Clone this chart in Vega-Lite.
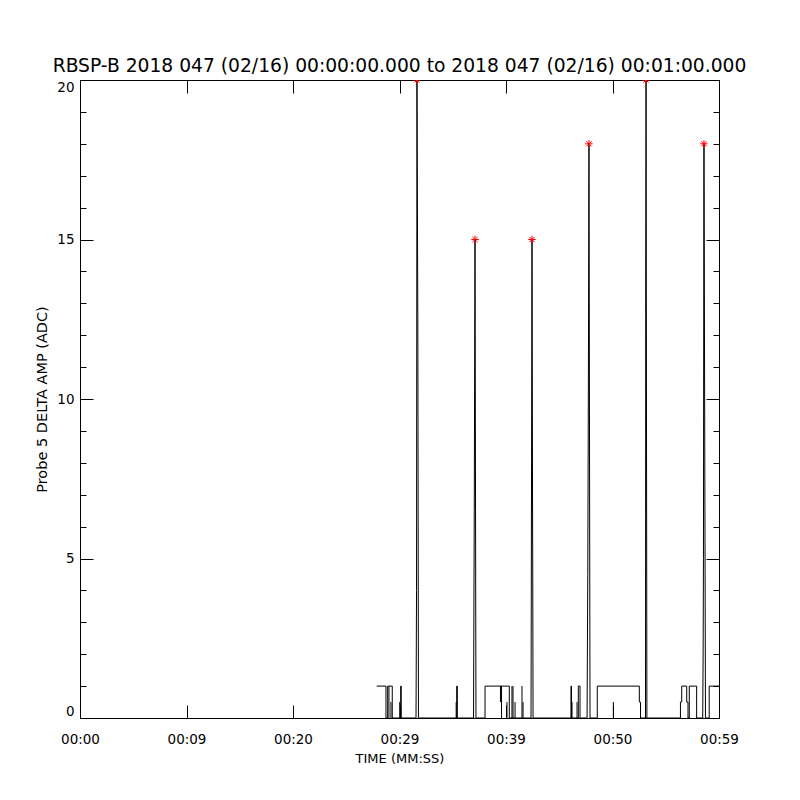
{
  "$schema": "https://vega.github.io/schema/vega-lite/v6.json",
  "width": 639,
  "height": 638,
  "autosize": "none",
  "padding": {"left": 80, "top": 80, "right": 81, "bottom": 82},
  "background": "white",
  "title": {"text": "RBSP-B 2018 047 (02/16) 00:00:00.000 to 2018 047 (02/16) 00:01:00.000", "font": "DejaVu Sans", "fontSize": 18.7, "fontWeight": "normal", "color": "black", "offset": 2, "anchor": "middle"},
  "config": {
    "view": {"stroke": "black", "strokeWidth": 1},
    "axis": {"labelFont": "DejaVu Sans", "labelFontSize": 13.5, "labelColor": "black", "tickColor": "black", "tickWidth": 1, "titleFont": "DejaVu Sans", "titleFontSize": 13, "titleFontWeight": "normal", "titleColor": "black", "grid": false, "domain": false}
  },
  "datasets": {
    "series": [
      {"i": 1, "t": 27.86, "v": 1, "s": "a"},
      {"i": 2, "t": 28.73, "v": 1, "s": "a"},
      {"i": 3, "t": 28.73, "v": 0, "s": "a"},
      {"i": 4, "t": 28.89, "v": 0, "s": "a"},
      {"i": 5, "t": 28.89, "v": 1, "s": "a"},
      {"i": 6, "t": 29.32, "v": 1, "s": "a"},
      {"i": 7, "t": 29.32, "v": 0, "s": "a"},
      {"i": 8, "t": 30.11, "v": 0, "s": "a"},
      {"i": 9, "t": 30.11, "v": 1, "s": "a"},
      {"i": 10, "t": 30.16, "v": 1, "s": "a"},
      {"i": 11, "t": 30.16, "v": 0, "s": "a"},
      {"i": 12, "t": 31.55, "v": 0, "s": "a"},
      {"i": 13, "t": 31.6, "v": 4, "s": "a"},
      {"i": 14, "t": 31.64, "v": 20, "s": "a"},
      {"i": 15, "t": 31.72, "v": 12.5, "s": "a"},
      {"i": 16, "t": 31.78, "v": 0, "s": "a"},
      {"i": 17, "t": 35.37, "v": 0, "s": "a"},
      {"i": 18, "t": 35.37, "v": 1, "s": "a"},
      {"i": 19, "t": 35.43, "v": 1, "s": "a"},
      {"i": 20, "t": 35.43, "v": 0, "s": "a"},
      {"i": 21, "t": 36.95, "v": 0, "s": "a"},
      {"i": 22, "t": 37.02, "v": 6.5, "s": "a"},
      {"i": 23, "t": 37.09, "v": 15, "s": "a"},
      {"i": 24, "t": 37.18, "v": 0, "s": "a"},
      {"i": 25, "t": 38.03, "v": 0, "s": "a"},
      {"i": 26, "t": 38.03, "v": 1, "s": "a"},
      {"i": 27, "t": 40.31, "v": 1, "s": "a"},
      {"i": 28, "t": 40.31, "v": 0, "s": "a"},
      {"i": 29, "t": 42.35, "v": 0, "s": "a"},
      {"i": 30, "t": 42.4, "v": 8, "s": "a"},
      {"i": 31, "t": 42.44, "v": 15, "s": "a"},
      {"i": 32, "t": 42.54, "v": 0, "s": "a"},
      {"i": 33, "t": 46.1, "v": 0, "s": "a"},
      {"i": 34, "t": 46.1, "v": 1, "s": "a"},
      {"i": 35, "t": 46.15, "v": 1, "s": "a"},
      {"i": 36, "t": 46.15, "v": 0, "s": "a"},
      {"i": 37, "t": 46.79, "v": 0, "s": "a"},
      {"i": 38, "t": 46.79, "v": 1, "s": "a"},
      {"i": 39, "t": 46.95, "v": 1, "s": "a"},
      {"i": 40, "t": 46.95, "v": 0, "s": "a"},
      {"i": 41, "t": 47.61, "v": 0, "s": "a"},
      {"i": 42, "t": 47.68, "v": 4.5, "s": "a"},
      {"i": 43, "t": 47.74, "v": 11, "s": "a"},
      {"i": 44, "t": 47.79, "v": 18, "s": "a"},
      {"i": 45, "t": 47.89, "v": 0, "s": "a"},
      {"i": 46, "t": 48.57, "v": 0, "s": "a"},
      {"i": 47, "t": 48.57, "v": 1, "s": "a"},
      {"i": 48, "t": 52.52, "v": 1, "s": "a"},
      {"i": 49, "t": 52.52, "v": 0.5, "s": "a"},
      {"i": 50, "t": 52.63, "v": 0.5, "s": "a"},
      {"i": 51, "t": 52.63, "v": 0, "s": "a"},
      {"i": 52, "t": 53.1, "v": 0, "s": "a"},
      {"i": 53, "t": 53.12, "v": 14, "s": "a"},
      {"i": 54, "t": 53.15, "v": 20, "s": "a"},
      {"i": 55, "t": 53.23, "v": 0, "s": "a"},
      {"i": 56, "t": 56.38, "v": 0, "s": "a"},
      {"i": 57, "t": 56.38, "v": 0.5, "s": "a"},
      {"i": 58, "t": 56.5, "v": 0.5, "s": "a"},
      {"i": 59, "t": 56.5, "v": 1, "s": "a"},
      {"i": 60, "t": 56.97, "v": 1, "s": "a"},
      {"i": 61, "t": 56.97, "v": 0.5, "s": "a"},
      {"i": 62, "t": 57.09, "v": 0.5, "s": "a"},
      {"i": 63, "t": 57.09, "v": 0, "s": "a"},
      {"i": 64, "t": 57.21, "v": 0, "s": "a"},
      {"i": 65, "t": 57.21, "v": 1, "s": "a"},
      {"i": 66, "t": 57.9, "v": 1, "s": "a"},
      {"i": 67, "t": 57.9, "v": 0, "s": "a"},
      {"i": 68, "t": 58.47, "v": 0, "s": "a"},
      {"i": 69, "t": 58.51, "v": 2, "s": "a"},
      {"i": 70, "t": 58.54, "v": 5, "s": "a"},
      {"i": 71, "t": 58.56, "v": 11, "s": "a"},
      {"i": 72, "t": 58.59, "v": 18, "s": "a"},
      {"i": 73, "t": 58.73, "v": 0, "s": "a"},
      {"i": 74, "t": 59.08, "v": 0, "s": "a"},
      {"i": 75, "t": 59.08, "v": 1, "s": "a"},
      {"i": 76, "t": 60.0, "v": 1, "s": "a"},
      {"i": 1, "t": 29.01, "v": 0, "s": "b1"},
      {"i": 2, "t": 29.01, "v": 1, "s": "b1"},
      {"i": 1, "t": 30.02, "v": 0, "s": "b2"},
      {"i": 2, "t": 30.02, "v": 0.5, "s": "b2"},
      {"i": 1, "t": 35.32, "v": 0, "s": "b3"},
      {"i": 2, "t": 35.32, "v": 0.5, "s": "b3"},
      {"i": 1, "t": 39.48, "v": 0.5, "s": "b4"},
      {"i": 2, "t": 39.48, "v": 1, "s": "b4"},
      {"i": 1, "t": 39.58, "v": 0, "s": "b5"},
      {"i": 2, "t": 39.58, "v": 1, "s": "b5"},
      {"i": 1, "t": 40.09, "v": 0, "s": "b6"},
      {"i": 2, "t": 40.09, "v": 0.5, "s": "b6"},
      {"i": 1, "t": 40.56, "v": 0, "s": "b7"},
      {"i": 2, "t": 40.56, "v": 1, "s": "b7"},
      {"i": 1, "t": 40.66, "v": 0, "s": "b8"},
      {"i": 2, "t": 40.66, "v": 1, "s": "b8"},
      {"i": 1, "t": 40.85, "v": 0, "s": "b9"},
      {"i": 2, "t": 40.85, "v": 0.5, "s": "b9"},
      {"i": 1, "t": 41.5, "v": 0, "s": "b10"},
      {"i": 2, "t": 41.5, "v": 1, "s": "b10"},
      {"i": 1, "t": 41.6, "v": 0, "s": "b11"},
      {"i": 2, "t": 41.6, "v": 0.5, "s": "b11"},
      {"i": 1, "t": 46.2, "v": 0, "s": "b12"},
      {"i": 2, "t": 46.2, "v": 0.5, "s": "b12"},
      {"i": 1, "t": 46.67, "v": 0, "s": "b13"},
      {"i": 2, "t": 46.67, "v": 0.5, "s": "b13"},
      {"i": 1, "t": 50.08, "v": 0, "s": "b14"},
      {"i": 2, "t": 50.08, "v": 0.5, "s": "b14"},
      {"i": 1, "t": 29.2, "v": 0, "s": "b15"},
      {"i": 2, "t": 29.2, "v": 0.5, "s": "b15"}
    ],
    "peaks": [
      {"t": 31.64, "v": 20},
      {"t": 37.09, "v": 15},
      {"t": 42.44, "v": 15},
      {"t": 47.79, "v": 18},
      {"t": 53.15, "v": 20},
      {"t": 58.59, "v": 18}
    ]
  },
  "resolve": {"axis": {"x": "independent", "y": "independent"}},
  "layer": [
    {
      "data": {"name": "series"},
      "mark": {"type": "line", "color": "black", "strokeWidth": 1, "clip": true, "interpolate": "linear"},
      "encoding": {
        "x": {"field": "t", "type": "quantitative", "scale": {"domain": [0, 60], "nice": false, "zero": false},
          "axis": {"orient": "bottom", "values": [0, 10, 20, 30, 40, 50, 60], "labelExpr": "['00:00','00:09','00:20','00:29','00:39','00:50','00:59'][round(datum.value/10)]", "tickSize": -13, "labelPadding": 27, "labelFlush": false, "title": "TIME (MM:SS)", "titleY": 40, "titleBaseline": "middle"}},
        "y": {"field": "v", "type": "quantitative", "scale": {"domain": [0, 20], "nice": false},
          "axis": {"orient": "left", "values": [0, 5, 10, 15, 20], "tickSize": -13, "labelPadding": 19, "labelFlush": true, "title": "Probe 5 DELTA AMP (ADC)", "titleFontSize": 14.5, "titleX": -38, "titleY": 319, "titleAngle": -90, "titleAlign": "center", "titleBaseline": "middle"}},
        "detail": {"field": "s", "type": "nominal"},
        "order": {"field": "i", "type": "quantitative"}
      }
    },
    {
      "data": {"name": "peaks"},
      "mark": {"type": "point", "shape": "M-1,0L1,0M0,-1L0,1M-0.7,-0.7L0.7,0.7M-0.7,0.7L0.7,-0.7", "filled": false, "stroke": "red", "strokeWidth": 1, "size": 56, "opacity": 1, "clip": true},
      "encoding": {
        "x": {"field": "t", "type": "quantitative", "axis": {"orient": "top", "values": [0, 10, 20, 30, 40, 50, 60], "labels": false, "tickSize": -13, "title": null}},
        "y": {"field": "v", "type": "quantitative", "axis": {"orient": "right", "values": [0, 5, 10, 15, 20], "labels": false, "tickSize": -13, "title": null}}
      }
    },
    {
      "data": {"name": "peaks"},
      "mark": {"type": "point", "opacity": 0},
      "encoding": {
        "x": {"field": "t", "type": "quantitative", "axis": null},
        "y": {"field": "v", "type": "quantitative", "axis": {"orient": "left", "values": [1, 2, 3, 4, 6, 7, 8, 9, 11, 12, 13, 14, 16, 17, 18, 19], "labels": false, "tickSize": -6, "title": null}}
      }
    },
    {
      "data": {"name": "peaks"},
      "mark": {"type": "point", "opacity": 0},
      "encoding": {
        "x": {"field": "t", "type": "quantitative", "axis": null},
        "y": {"field": "v", "type": "quantitative", "axis": {"orient": "right", "values": [1, 2, 3, 4, 6, 7, 8, 9, 11, 12, 13, 14, 16, 17, 18, 19], "labels": false, "tickSize": -6, "title": null}}
      }
    }
  ]
}
